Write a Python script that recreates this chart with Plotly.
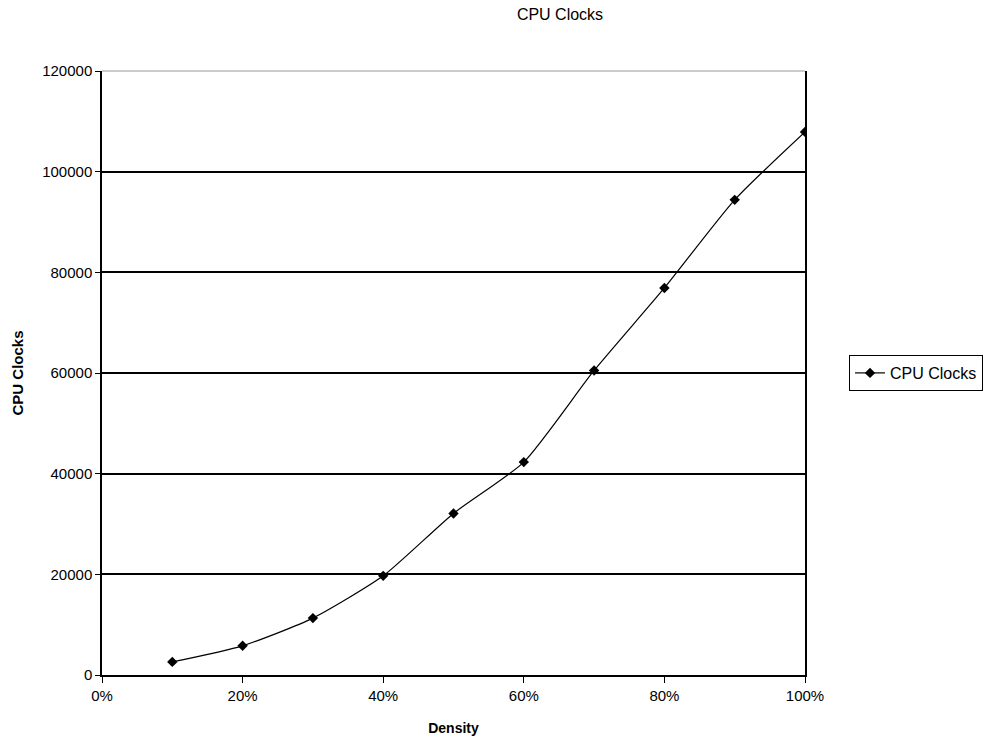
import plotly.graph_objects as go

density = [0.1, 0.2, 0.3, 0.4, 0.5, 0.6, 0.7, 0.8, 0.9, 1.0]
cpu_clocks = [2600, 5800, 11300, 19700, 32100, 42300, 60500, 76900, 94400, 107900]

x_ticks = [0, 0.2, 0.4, 0.6, 0.8, 1.0]
y_ticks = [0, 20000, 40000, 60000, 80000, 100000, 120000]

FONT = "Liberation Sans, Arial, sans-serif"

fig = go.Figure()
fig.add_trace(go.Scatter(
    x=density, y=cpu_clocks, name="CPU Clocks",
    mode="lines+markers",
    line=dict(color="black", width=1.2, shape="spline", smoothing=0.6),
    marker=dict(symbol="diamond", size=8, color="black"),
))

fig.update_layout(
    width=986, height=740,
    paper_bgcolor="white", plot_bgcolor="white",
    margin=dict(l=102, r=181, t=71, b=65, autoexpand=False),
    font=dict(family=FONT, size=15, color="black"),
    title=dict(text="CPU Clocks", x=560/986, xanchor="center", y=1 - 14/740, yanchor="middle",
               font=dict(size=16, family=FONT)),
    showlegend=True,
    legend=dict(x=1.0626, xanchor="left", y=0.5, yanchor="middle",
                bordercolor="black", borderwidth=1, bgcolor="white",
                font=dict(size=16, family=FONT)),
)

fig.update_xaxes(
    range=[0, 1], tickvals=x_ticks, tickformat=".0%",
    showgrid=False, zeroline=False,
    showline=True, linecolor="black", linewidth=1.5,
    ticks="outside", ticklen=6, tickcolor="black", tickwidth=1,
    tickfont=dict(size=15),
    title=dict(text="<b>Density</b>", font=dict(size=14), standoff=20),
)
fig.update_yaxes(
    range=[0, 120000], tickvals=y_ticks, tickformat="d",
    showgrid=True, gridcolor="black", gridwidth=1.5,
    zeroline=False,
    showline=True, linecolor="black", linewidth=1.5, mirror=True,
    ticks="outside", ticklen=5, tickcolor="black", tickwidth=1,
    tickfont=dict(size=15),
    title=dict(text="<b>CPU Clocks</b>", font=dict(size=15), standoff=15),
)

# thin gray top border of the plot area
fig.add_shape(type="line", xref="paper", yref="paper", x0=0, x1=1, y0=1, y1=1,
              line=dict(color="#999999", width=1))

fig.write_html("out.html")
